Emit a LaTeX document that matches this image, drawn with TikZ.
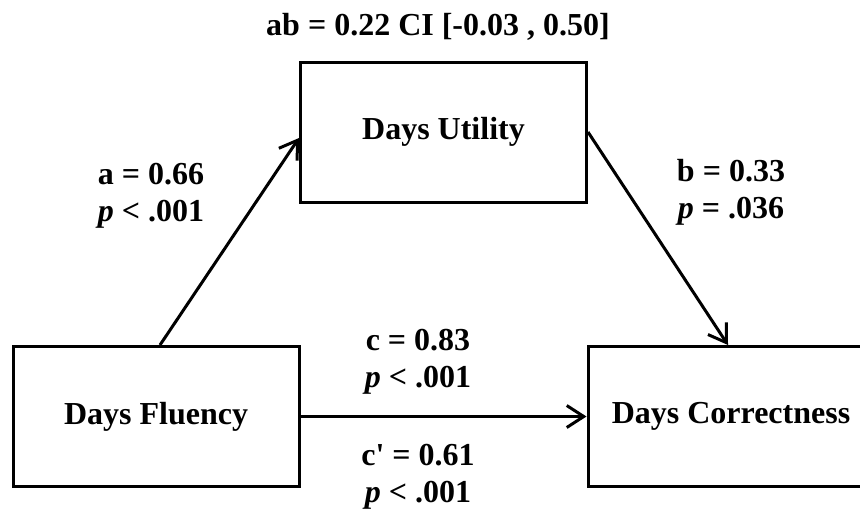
\documentclass[tikz,border=0pt]{standalone}
\usepackage{fontspec}
\setmainfont{Liberation Serif}
\usetikzlibrary{arrows.meta}
\tikzset{
  varbox/.style={draw,line width=1.5pt,minimum width=143pt,minimum height=70pt,inner sep=0pt},
  coef/.style={align=center},
  path/.style={line width=1.5pt,-{Straight Barb[length=8.5pt,width=11pt]}}
}

\begin{document}
\begin{tikzpicture}[x=0.5pt,y=-0.5pt,font=\fontsize{16}{18.5}\selectfont\bfseries]
\useasboundingbox (0,0) rectangle (860,509);

\node[varbox] (flu) at (156,416.5) {Days Fluency};
\node[varbox] (uti) at (443.5,132) {Days Utility};
\node[varbox] (cor) at (731,416.5) {Days Correctness};

\draw[path] ([xshift=2pt]flu.north) -- ([yshift=-3pt]uti.west);
\draw[path] (uti.east) -- ([xshift=-1.5pt]cor.north);
\draw[path] (flu.east) -- (cor.west);

\node[anchor=base] (ab) at (438,35) {ab = 0.22 CI [-0.03 , 0.50]};
\node[coef] (a) at (151,196) {a = 0.66\\\textit{p} < .001};
\node[coef] (b) at (731,192.5) {b = 0.33\\\textit{p} = .036};
\node[coef] (c) at (418,361.5) {c = 0.83\\\textit{p} < .001};
\node[coef] (cp) at (418,476.5) {c\textquotesingle{} = 0.61\\\textit{p} < .001};
\end{tikzpicture}
\end{document}
